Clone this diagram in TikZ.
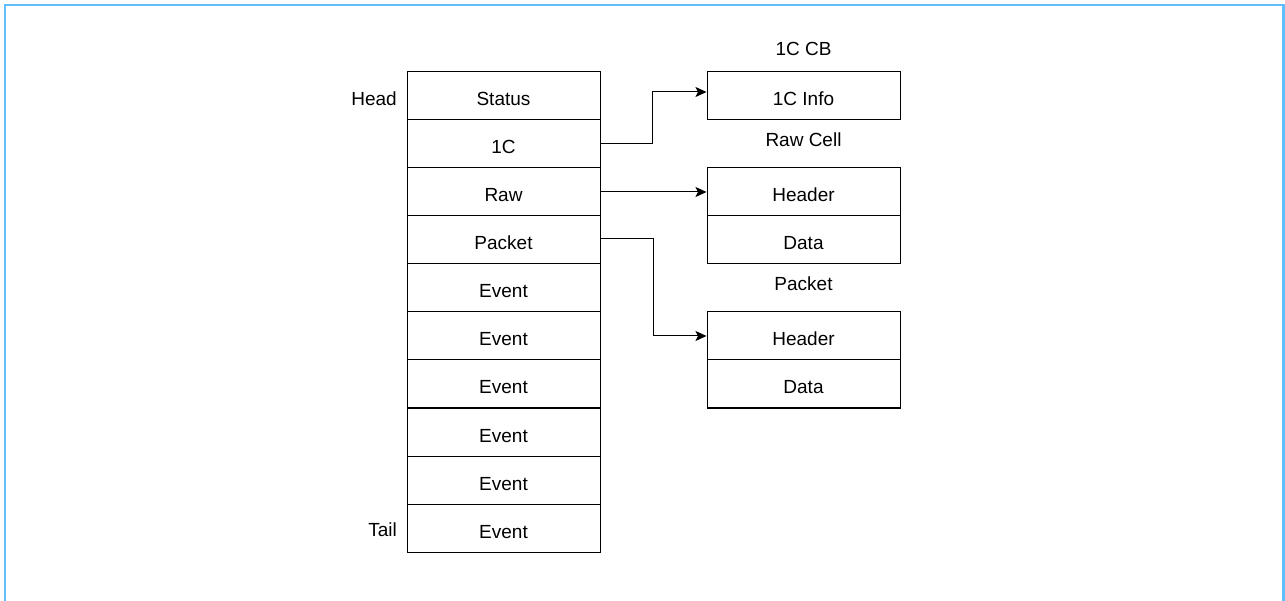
\documentclass[tikz,border=0pt]{standalone}
\usepackage{fontspec}
\setmainfont{Liberation Sans}
\usetikzlibrary{arrows.meta}
\definecolor{frameblue}{RGB}{98,190,250}
\begin{document}
\begin{tikzpicture}[x=1pt,y=-1pt,
  cell/.style={draw=black,line width=1pt,minimum width=193pt,minimum height=48pt,inner sep=0pt,text height=20pt,text depth=0pt,font=\fontsize{19}{22}\selectfont},
  lbl/.style={inner sep=0pt,font=\fontsize{19}{22}\selectfont},
  conn/.style={draw=black,line width=1pt,-{Stealth[length=11pt,width=10pt,inset=2.5pt]}}]
\useasboundingbox (0,0) rectangle (1285,601);
\draw[frameblue,line width=2.6pt] (5,601) -- (5,5) -- (1283.6,5) -- (1283.6,601);
% main column
\node[cell] (c1) at (503.5,96) {Status};
\node[cell] (c2) at (503.5,144) {1C};
\node[cell] (c3) at (503.5,192) {Raw};
\node[cell] (c4) at (503.5,240) {Packet};
\node[cell] (c5) at (503.5,288) {Event};
\node[cell] (c6) at (503.5,336) {Event};
\node[cell] (c7) at (503.5,384) {Event};
\node[cell] (c8) at (503.5,432) {Event};
\node[cell] (c9) at (503.5,480) {Event};
\node[cell] (c10) at (503.5,528) {Event};
\node[lbl,anchor=east] (head) at (397,99) {Head};
\node[lbl,anchor=east] (tail) at (397,530) {Tail};
% right boxes
\node[cell] (info) at (803.5,96) {1C Info};
\node[cell] (rh) at (803.5,192) {Header};
\node[cell] (rd) at (803.5,240) {Data};
\node[cell] (ph) at (803.5,336) {Header};
\node[cell] (pd) at (803.5,384) {Data};
\node[lbl] (cbl) at (803.5,49) {1C CB};
\node[lbl] (rcl) at (803.5,140) {Raw Cell};
\node[lbl] (pkl) at (803.5,284) {Packet};
% connectors
\coordinate (infoin) at ([yshift=4pt]info.west);
\draw[conn] (c2.east) -- (652,144) |- (infoin);
\draw[conn] (c3.east) -- (rh.west);
\draw[conn] ([yshift=1pt]c4.east) -- (653,239) |- (ph.west);
\end{tikzpicture}
\end{document}
